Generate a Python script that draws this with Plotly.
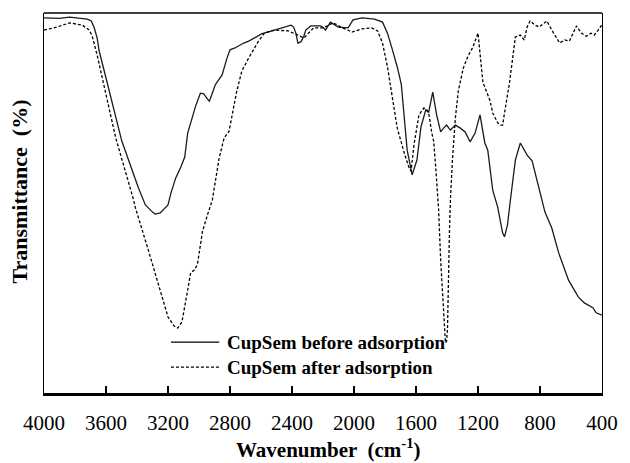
import plotly.graph_objects as go

# FTIR spectra of CupSem, wavenumber (cm-1) vs transmittance (arbitrary %)
before_wn = [4000, 3900, 3835, 3752, 3721, 3695, 3676, 3657, 3644, 3600, 3498, 3390,
             3346, 3300, 3283, 3250, 3200, 3181, 3150, 3117, 3092, 3073, 3054, 3022,
             2991, 2970, 2940, 2933, 2914, 2895, 2870, 2851, 2819, 2800, 2768, 2711,
             2679, 2597, 2514, 2489, 2420, 2406, 2390, 2375, 2362, 2343, 2324, 2311,
             2279, 2248, 2216, 2197, 2184, 2152, 2102, 2038, 2006, 1949, 1867, 1816,
             1784, 1752, 1721, 1695, 1676, 1657, 1625, 1594, 1568, 1537, 1518, 1492,
             1467, 1441, 1422, 1403, 1378, 1346, 1314, 1283, 1251, 1219, 1187, 1156,
             1137, 1105, 1073, 1041, 1029, 1010, 991, 959, 927, 902, 883, 851, 819,
             787, 768, 724, 679, 616, 553, 514, 457, 438, 400]
before_t = [98.7, 98.6, 98.9, 98.4, 98.4, 97.9, 96.1, 93.4, 90.0, 82.9, 66.3, 53.9,
            49.5, 47.6, 47.1, 47.4, 49.5, 52.6, 56.6, 59.5, 62.1, 68.4, 71.0, 75.5,
            78.9, 78.7, 77.1, 76.8, 78.9, 81.1, 82.6, 83.7, 88.2, 90.3, 90.8, 92.1,
            92.6, 94.5, 95.5, 95.8, 96.7, 96.8, 96.3, 94.7, 92.1, 92.4, 93.9, 95.5,
            96.6, 96.6, 96.6, 96.1, 95.5, 97.6, 96.3, 96.1, 98.2, 98.7, 98.4, 97.6,
            94.7, 90.3, 85.8, 81.3, 72.6, 63.9, 57.4, 61.3, 70.0, 74.5, 73.9, 79.2,
            73.2, 68.7, 69.7, 70.5, 69.2, 70.5, 69.7, 68.7, 66.1, 68.4, 73.2, 65.8,
            63.9, 53.4, 48.9, 42.1, 41.1, 44.2, 50.8, 61.3, 65.8, 63.9, 62.6, 61.1,
            56.1, 50.5, 47.6, 43.4, 36.8, 29.7, 25.3, 23.7, 22.4, 21.1, 20.5]

after_wn = [4000, 3917, 3835, 3752, 3708, 3689, 3657, 3625, 3537, 3422, 3410, 3327,
            3264, 3200, 3160, 3137, 3110, 3092, 3073, 3054, 3029, 3010, 2978, 2946,
            2914, 2870, 2838, 2806, 2787, 2756, 2724, 2679, 2616, 2578, 2514, 2425,
            2362, 2324, 2260, 2197, 2165, 2133, 2076, 2013, 1949, 1886, 1848, 1816,
            1784, 1752, 1721, 1676, 1644, 1632, 1613, 1581, 1549, 1530, 1518, 1498,
            1486, 1473, 1454, 1441, 1422, 1410, 1403, 1397, 1384, 1378, 1365, 1346,
            1327, 1295, 1264, 1232, 1200, 1181, 1168, 1156, 1124, 1105, 1073, 1054,
            1041, 1029, 997, 978, 959, 927, 902, 883, 864, 832, 806, 756, 724, 673,
            641, 610, 565, 533, 502, 470, 450, 425, 406, 400]
after_t = [95.5, 96.3, 97.4, 96.8, 95.5, 93.9, 88.9, 82.9, 67.1, 50.8, 48.7, 37.6,
           28.9, 20.0, 17.6, 17.1, 18.7, 22.4, 27.1, 31.6, 32.4, 33.9, 42.4, 46.8,
           50.8, 61.8, 67.1, 68.9, 73.2, 79.5, 84.7, 88.2, 92.6, 94.7, 95.5, 95.3,
           94.2, 93.4, 96.1, 96.1, 96.8, 97.4, 96.1, 95.0, 95.8, 96.1, 95.3, 92.1,
           85.8, 77.1, 69.7, 63.2, 59.2, 58.4, 65.3, 73.2, 75.0, 74.5, 73.7, 68.4,
           66.3, 59.5, 48.2, 35.0, 20.5, 13.2, 13.6, 16.6, 42.9, 50.8, 61.3, 72.4,
           79.5, 85.5, 88.7, 91.1, 94.7, 87.6, 81.6, 80.5, 77.1, 73.7, 71.1, 70.5,
           70.5, 73.7, 81.6, 87.6, 93.7, 94.2, 92.9, 96.3, 97.9, 96.8, 96.3, 97.9,
           95.5, 92.1, 92.9, 92.6, 96.6, 94.7, 93.9, 94.7, 94.2, 95.5, 96.6, 96.6]

series_names = ["CupSem before adsorption", "CupSem after adsorption"]
x_ticks = [4000, 3600, 3200, 2800, 2400, 2000, 1600, 1200, 800, 400]

SERIF = "Liberation Serif, Times New Roman, serif"

fig = go.Figure()
fig.add_trace(go.Scatter(x=before_wn, y=before_t, mode="lines", name=series_names[0],
                         line=dict(color="#1a1a1a", width=1.3), showlegend=False))
fig.add_trace(go.Scatter(x=after_wn, y=after_t, mode="lines", name=series_names[1],
                         line=dict(color="#000000", width=1.3, dash="3px,2px"),
                         showlegend=False))

# hand-drawn legend: line samples + bold labels
legend_rows = [(0.134, "solid"), (0.068, "3px,2px")]
for (ly, dash), name in zip(legend_rows, series_names):
    fig.add_shape(type="line", xref="paper", yref="paper", x0=0.2275, x1=0.314,
                  y0=ly, y1=ly, line=dict(color="black", width=1.2, dash=dash))
    fig.add_annotation(xref="paper", yref="paper", x=0.3245, y=ly, text=f"<b>{name}</b>",
                       showarrow=False, xanchor="left", yanchor="middle",
                       font=dict(family=SERIF, size=19, color="black"))

# top border of the frame
fig.add_shape(type="line", xref="paper", yref="paper", x0=0, x1=1, y0=1, y1=1,
              line=dict(color="black", width=1.5))

# axis titles
fig.add_annotation(xref="paper", yref="paper", x=0.51, y=-0.147, yanchor="middle",
                   text="<b>Wavenumber  (cm<sup>-1</sup>)</b>", showarrow=False,
                   font=dict(family=SERIF, size=21, color="black"))
fig.add_annotation(xref="paper", yref="paper", x=-0.043, y=0.53, textangle=-90,
                   xanchor="center", yanchor="middle",
                   text="<b>Transmittance  (%)</b>", showarrow=False,
                   font=dict(family=SERIF, size=22, color="black"))

fig.update_layout(
    width=630, height=463,
    margin=dict(l=44, r=19, t=13, b=70),
    paper_bgcolor="white", plot_bgcolor="white",
    xaxis=dict(range=[4000, 400], tickvals=x_ticks, ticktext=[str(v) for v in x_ticks],
               ticks="inside", ticklen=7, tickwidth=1.5, tickcolor="black",
               showline=True, linewidth=2.5, linecolor="black", mirror=False,
               showgrid=False, zeroline=False, ticklabelstandoff=9,
               tickfont=dict(family=SERIF, size=21, color="black")),
    yaxis=dict(range=[0, 100], showticklabels=False, ticks="",
               showline=True, linewidth=1.3, linecolor="black", mirror=True,
               showgrid=False, zeroline=False),
)

fig.write_html("out.html")
